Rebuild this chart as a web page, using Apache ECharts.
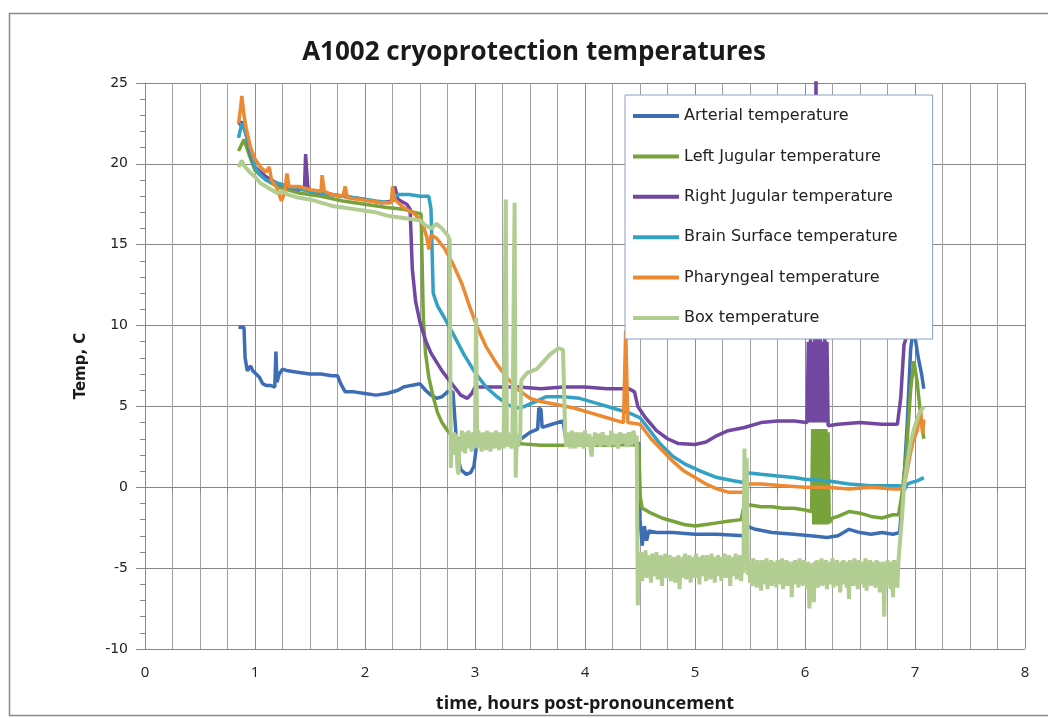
<!DOCTYPE html>
<html>
<head>
<meta charset="utf-8">
<script src="https://cdn.jsdelivr.net/npm/echarts@6/dist/echarts.min.js"></script>
<style>
html,body{margin:0;padding:0;background:#fff;}
#chart{width:1048px;height:718px;}
</style>
</head>
<body>
<div id="chart"></div>
<script>
const titleText = 'A1002 cryoprotection temperatures';
const xAxisName = 'time, hours post-pronouncement';
const yAxisName = 'Temp, C';
const seriesNames = ['Arterial temperature','Left Jugular temperature','Right Jugular temperature','Brain Surface temperature','Pharyngeal temperature','Box temperature'];
const seriesColors = ['#3D6DB5','#78A23A','#7247A2','#33A1C4','#EB8A33','#B2CD92'];
const seriesWidths = [3.5, 3.5, 3.5, 3.5, 3.5, 4];

const arterialData = [[0.85,9.9],[0.9,9.9],[0.91,8.0],[0.93,7.2],[0.96,7.5],[0.98,7.2],[1.01,7.0],[1.04,6.8],[1.07,6.4],[1.1,6.3],[1.14,6.3],[1.18,6.2],[1.19,8.4],[1.2,6.5],[1.22,7.0],[1.25,7.3],[1.3,7.2],[1.4,7.1],[1.5,7.0],[1.6,7.0],[1.7,6.9],[1.75,6.9],[1.78,6.4],[1.82,5.9],[1.9,5.9],[2.0,5.8],[2.1,5.7],[2.2,5.8],[2.3,6.0],[2.35,6.2],[2.42,6.3],[2.5,6.4],[2.55,6.0],[2.6,5.7],[2.65,5.5],[2.7,5.6],[2.75,5.9],[2.8,5.9],[2.84,2.0],[2.87,1.1],[2.92,0.8],[2.96,0.9],[2.99,1.3],[3.02,2.9],[3.1,2.8],[3.2,2.9],[3.3,2.8],[3.38,2.9],[3.42,3.0],[3.5,3.4],[3.57,3.6],[3.58,4.9],[3.6,4.8],[3.61,3.7],[3.7,3.9],[3.8,4.1],[3.83,2.8],[4.0,2.8],[4.2,2.7],[4.45,2.8],[4.49,2.7],[4.5,-2.0],[4.52,-3.6],[4.54,-2.4],[4.56,-3.3],[4.58,-2.7],[4.65,-2.8],[4.8,-2.8],[5.0,-2.9],[5.2,-2.9],[5.44,-3.0],[5.47,-2.4],[5.55,-2.6],[5.7,-2.8],[5.9,-2.9],[6.05,-3.0],[6.2,-3.1],[6.3,-3.0],[6.4,-2.6],[6.5,-2.8],[6.6,-2.9],[6.7,-2.8],[6.8,-2.9],[6.86,-2.8],[6.9,0.5],[6.93,4.0],[6.96,8.5],[6.98,9.6],[7.0,9.3],[7.03,8.0],[7.06,7.0],[7.08,6.1]];

const leftJugularData = [[0.85,20.8],[0.9,21.5],[0.95,20.5],[1.0,19.6],[1.1,19.0],[1.2,18.6],[1.3,18.4],[1.4,18.2],[1.6,18.0],[1.8,17.7],[2.0,17.5],[2.2,17.3],[2.35,17.2],[2.45,17.0],[2.51,16.9],[2.53,10.5],[2.55,8.3],[2.58,6.8],[2.62,5.6],[2.66,4.6],[2.7,4.0],[2.75,3.5],[2.8,3.1],[2.9,2.9],[3.0,2.8],[3.2,2.7],[3.4,2.7],[3.6,2.6],[3.8,2.6],[4.0,2.6],[4.2,2.6],[4.4,2.65],[4.49,2.6],[4.5,-0.5],[4.52,-1.3],[4.55,-1.4],[4.6,-1.6],[4.7,-1.9],[4.8,-2.1],[4.9,-2.3],[5.0,-2.4],[5.1,-2.3],[5.2,-2.2],[5.3,-2.1],[5.42,-2.0],[5.45,-1.0],[5.5,-1.1],[5.6,-1.2],[5.7,-1.2],[5.8,-1.3],[5.9,-1.3],[6.0,-1.4],[6.06,-1.5],[6.07,3.6],[6.08,-2.3],[6.09,3.6],[6.1,-2.3],[6.11,3.6],[6.12,-2.3],[6.13,3.6],[6.14,-2.3],[6.15,3.6],[6.16,-2.3],[6.17,3.6],[6.18,-2.3],[6.19,3.6],[6.2,-2.3],[6.21,3.4],[6.22,-2.2],[6.25,-1.9],[6.3,-1.8],[6.4,-1.5],[6.5,-1.6],[6.6,-1.8],[6.7,-1.9],[6.8,-1.7],[6.85,-1.7],[6.88,-0.5],[6.92,2.0],[6.96,6.0],[6.99,7.8],[7.02,6.5],[7.05,4.5],[7.08,3.0]];

const rightJugularData = [[0.85,22.4],[0.88,22.6],[0.92,21.8],[0.96,20.6],[1.0,19.8],[1.1,19.2],[1.2,18.8],[1.3,18.6],[1.4,18.4],[1.45,18.5],[1.46,20.6],[1.48,18.6],[1.5,18.3],[1.6,18.2],[1.8,18.0],[2.0,17.8],[2.15,17.6],[2.25,17.7],[2.27,18.6],[2.3,17.8],[2.38,17.5],[2.41,17.2],[2.43,13.5],[2.46,11.5],[2.5,10.2],[2.55,9.1],[2.6,8.3],[2.7,7.2],[2.8,6.3],[2.87,5.7],[2.93,5.5],[2.97,5.8],[3.0,6.2],[3.2,6.2],[3.4,6.2],[3.6,6.1],[3.8,6.2],[4.0,6.2],[4.2,6.1],[4.4,6.1],[4.45,5.9],[4.48,5.0],[4.55,4.3],[4.65,3.5],[4.75,3.0],[4.85,2.7],[5.0,2.65],[5.1,2.8],[5.2,3.2],[5.3,3.5],[5.45,3.7],[5.6,4.0],[5.75,4.1],[5.9,4.1],[6.02,4.0],[6.03,9.0],[6.04,4.0],[6.05,9.2],[6.06,4.0],[6.07,9.0],[6.08,4.0],[6.09,9.2],[6.1,26],[6.11,4.0],[6.12,9.0],[6.13,4.0],[6.14,9.2],[6.15,4.0],[6.16,9.0],[6.17,4.0],[6.18,9.2],[6.19,4.0],[6.2,9.0],[6.21,3.8],[6.3,3.9],[6.5,4.0],[6.7,3.9],[6.84,3.9],[6.87,5.5],[6.9,8.8],[6.93,9.5],[7.0,9.6],[7.06,9.7]];

const brainData = [[0.85,21.6],[0.88,22.5],[0.9,22.3],[0.95,21.0],[1.0,19.8],[1.05,19.3],[1.1,19.0],[1.2,18.8],[1.3,18.6],[1.5,18.3],[1.7,18.1],[1.9,17.9],[2.1,17.7],[2.22,17.6],[2.3,18.1],[2.4,18.1],[2.5,18.0],[2.58,18.0],[2.6,17.2],[2.62,12.0],[2.66,11.2],[2.72,10.5],[2.8,9.5],[2.9,8.2],[3.0,7.1],[3.1,6.2],[3.2,5.6],[3.3,5.1],[3.38,4.9],[3.45,5.0],[3.55,5.3],[3.65,5.6],[3.8,5.6],[3.95,5.5],[4.1,5.2],[4.25,4.9],[4.4,4.6],[4.5,4.3],[4.58,3.6],[4.68,2.7],[4.8,1.9],[4.92,1.4],[5.05,1.0],[5.2,0.6],[5.35,0.4],[5.44,0.3],[5.47,0.9],[5.6,0.8],[5.75,0.7],[5.9,0.6],[6.0,0.5],[6.2,0.4],[6.4,0.2],[6.6,0.1],[6.8,0.1],[6.86,0.1],[6.9,-0.2],[6.93,0.2],[6.97,0.3],[7.02,0.4],[7.08,0.6]];

const pharyngealData = [[0.85,22.5],[0.87,23.5],[0.88,24.2],[0.9,23.0],[0.92,22.2],[0.96,21.0],[1.0,20.3],[1.05,19.8],[1.1,19.5],[1.13,19.8],[1.15,19.0],[1.2,18.5],[1.24,17.7],[1.27,18.2],[1.29,19.4],[1.31,18.6],[1.4,18.6],[1.5,18.4],[1.6,18.3],[1.61,19.3],[1.63,18.3],[1.7,18.1],[1.8,18.0],[1.82,18.6],[1.84,17.9],[1.95,17.8],[2.05,17.7],[2.15,17.6],[2.24,17.6],[2.25,18.6],[2.27,17.8],[2.35,17.3],[2.45,16.9],[2.52,16.4],[2.56,15.5],[2.58,14.7],[2.6,15.6],[2.65,15.4],[2.72,14.8],[2.8,13.8],[2.88,12.6],[2.95,11.2],[3.02,9.9],[3.1,8.7],[3.2,7.6],[3.3,6.7],[3.4,6.0],[3.5,5.5],[3.6,5.3],[3.75,5.1],[3.9,4.9],[4.05,4.6],[4.2,4.3],[4.35,4.0],[4.37,9.7],[4.39,4.0],[4.45,3.95],[4.5,3.9],[4.6,3.0],[4.7,2.3],[4.8,1.6],[4.9,1.0],[5.0,0.6],[5.1,0.2],[5.2,-0.1],[5.3,-0.3],[5.44,-0.3],[5.47,0.2],[5.6,0.2],[5.8,0.1],[6.0,0.0],[6.2,0.0],[6.4,-0.1],[6.6,0.0],[6.8,-0.1],[6.86,-0.1],[6.9,0.0],[6.95,1.8],[6.98,2.8],[7.02,3.5],[7.05,4.8],[7.07,3.3],[7.08,4.2]];

const boxData = [[0.85,19.8],[0.88,20.2],[0.9,19.9],[0.95,19.5],[1.0,19.2],[1.05,18.8],[1.1,18.6],[1.15,18.4],[1.2,18.2],[1.25,18.3],[1.3,18.1],[1.4,17.9],[1.5,17.8],[1.6,17.6],[1.7,17.4],[1.8,17.3],[1.9,17.2],[2.0,17.1],[2.1,17.0],[2.2,16.8],[2.3,16.7],[2.4,16.6],[2.5,16.5],[2.55,16.2],[2.6,16.0],[2.65,16.3],[2.7,16.0],[2.75,15.6],[2.77,15.3],[2.78,1.2],[2.79,3.2],[2.8,2.2],[2.81,3.4],[2.82,2.0],[2.83,3.3],[2.84,1.2],[2.85,0.8],[2.86,3.0],[2.87,2.2],[2.88,3.5],[2.89,2.4],[2.9,3.4],[2.91,2.1],[2.92,3.2],[2.93,2.5],[2.94,3.5],[2.95,2.4],[2.96,3.3],[2.97,2.2],[2.98,3.4],[2.99,2.6],[3.0,3.3],[3.01,10.5],[3.02,2.4],[3.03,3.5],[3.04,2.5],[3.05,3.3],[3.06,2.2],[3.07,3.4],[3.08,2.6],[3.09,3.2],[3.1,2.3],[3.11,3.5],[3.12,2.5],[3.13,3.3],[3.14,2.2],[3.15,3.4],[3.16,2.6],[3.17,3.2],[3.18,2.4],[3.19,3.5],[3.2,2.5],[3.21,3.3],[3.22,2.3],[3.23,3.4],[3.24,2.6],[3.25,3.2],[3.26,2.4],[3.28,17.8],[3.29,2.5],[3.3,3.4],[3.31,2.6],[3.32,3.3],[3.33,2.4],[3.34,3.1],[3.36,17.6],[3.37,0.6],[3.38,3.2],[3.39,2.5],[3.4,3.3],[3.41,2.8],[3.42,6.6],[3.44,6.8],[3.48,7.1],[3.52,7.2],[3.56,7.3],[3.6,7.6],[3.64,7.9],[3.68,8.2],[3.72,8.4],[3.76,8.6],[3.8,8.5],[3.82,3.3],[3.83,2.5],[3.84,3.4],[3.85,2.6],[3.86,3.2],[3.87,2.4],[3.88,3.5],[3.89,2.6],[3.9,3.3],[3.91,2.4],[3.92,3.4],[3.93,2.7],[3.94,3.2],[3.95,2.5],[3.96,3.4],[3.97,2.6],[3.98,3.3],[3.99,2.4],[4.0,3.5],[4.01,2.6],[4.02,3.2],[4.03,2.5],[4.04,3.3],[4.05,2.4],[4.06,1.9],[4.07,3.1],[4.08,2.5],[4.09,3.4],[4.1,2.6],[4.12,3.3],[4.14,2.5],[4.16,3.4],[4.18,2.6],[4.2,3.2],[4.22,2.5],[4.24,3.5],[4.26,2.6],[4.28,3.3],[4.3,2.4],[4.32,3.4],[4.34,2.7],[4.36,3.3],[4.38,2.5],[4.4,3.4],[4.42,2.6],[4.44,3.5],[4.46,2.7],[4.47,3.2],[4.48,-7.3],
[4.49,-4.1],[4.5,-5.4],[4.51,-4.0],[4.52,-5.8],[4.53,-4.3],[4.54,-5.2],[4.55,-3.9],[4.56,-5.6],[4.57,-4.2],[4.58,-5.3],[4.59,-4.4],[4.6,-5.9],[4.61,-4.1],[4.62,-5.5],[4.63,-4.3],[4.64,-5.2],[4.65,-4.0],[4.66,-5.7],[4.67,-4.4],[4.68,-5.4],[4.69,-4.2],[4.7,-6.1],[4.71,-4.3],[4.72,-5.3],[4.73,-4.1],[4.74,-5.6],[4.75,-4.5],[4.76,-5.2],[4.77,-4.2],[4.78,-5.8],[4.79,-4.4],[4.8,-5.5],[4.81,-4.3],[4.82,-5.9],[4.83,-4.6],[4.84,-5.4],[4.85,-4.2],[4.86,-6.3],[4.87,-4.5],[4.88,-5.6],[4.89,-4.3],[4.9,-5.3],[4.91,-4.1],[4.92,-5.7],[4.93,-4.4],[4.94,-5.5],[4.95,-4.2],[4.96,-5.9],[4.97,-4.5],[4.98,-5.3],[4.99,-4.3],[5.0,-5.6],[5.01,-4.1],[5.02,-5.4],[5.03,-4.4],[5.04,-6.0],[5.05,-4.3],[5.06,-5.5],[5.07,-4.2],[5.08,-5.3],[5.09,-4.5],[5.1,-5.8],[5.11,-4.2],[5.12,-5.4],[5.13,-4.4],[5.14,-5.7],[5.15,-4.1],[5.16,-5.3],[5.17,-4.3],[5.18,-5.9],[5.19,-4.4],[5.2,-5.5],[5.21,-4.2],[5.22,-5.2],[5.23,-4.5],[5.24,-5.8],[5.25,-4.3],[5.26,-5.4],[5.27,-4.1],[5.28,-5.6],[5.29,-4.4],[5.3,-5.3],[5.31,-4.2],[5.32,-6.1],[5.33,-4.5],[5.34,-5.5],[5.35,-4.3],[5.36,-5.2],[5.37,-4.1],[5.38,-5.7],[5.39,-4.4],[5.4,-5.4],[5.41,-4.2],[5.42,-5.8],[5.43,-4.4],[5.44,-5.3],
[5.45,2.4],[5.46,-4.8],[5.47,1.8],[5.48,-5.4],
[5.49,-4.5],[5.5,-5.9],[5.51,-4.6],[5.52,-6.1],[5.53,-4.4],[5.54,-5.7],[5.55,-4.8],[5.56,-6.2],[5.57,-4.5],[5.58,-5.8],[5.59,-4.7],[5.6,-6.4],[5.61,-4.5],[5.62,-5.9],[5.63,-4.6],[5.64,-6.0],[5.65,-4.4],[5.66,-6.3],[5.67,-4.7],[5.68,-5.8],[5.69,-4.5],[5.7,-6.1],[5.71,-4.6],[5.72,-5.7],[5.73,-4.8],[5.74,-6.2],[5.75,-4.5],[5.76,-5.9],[5.77,-4.6],[5.78,-6.0],[5.79,-4.4],[5.8,-6.3],[5.81,-4.7],[5.82,-5.8],[5.83,-4.5],[5.84,-6.1],[5.85,-4.6],[5.86,-5.9],[5.87,-4.8],[5.88,-6.8],[5.89,-4.6],[5.9,-6.0],[5.91,-4.5],[5.92,-5.8],[5.93,-4.7],[5.94,-6.2],[5.95,-4.4],[5.96,-5.9],[5.97,-4.6],[5.98,-6.1],[5.99,-4.5],[6.0,-5.8],[6.01,-4.7],[6.02,-6.3],[6.03,-4.6],[6.04,-7.5],[6.05,-4.8],[6.06,-6.4],[6.07,-4.7],[6.08,-7.1],[6.09,-4.6],[6.1,-6.0],[6.11,-4.5],[6.12,-6.2],[6.13,-4.7],[6.14,-5.9],[6.15,-4.4],[6.16,-6.1],[6.17,-4.6],[6.18,-5.8],[6.19,-4.5],[6.2,-6.3],[6.21,-4.7],[6.22,-5.9],[6.23,-4.6],[6.24,-6.0],[6.25,-4.4],[6.26,-6.2],[6.27,-4.7],[6.28,-5.8],[6.29,-4.5],[6.3,-6.1],[6.31,-4.8],[6.32,-6.5],[6.33,-4.6],[6.34,-5.9],[6.35,-4.5],[6.36,-6.0],[6.37,-4.7],[6.38,-6.2],[6.39,-4.6],[6.4,-6.9],[6.41,-4.5],[6.42,-5.9],[6.43,-4.7],[6.44,-6.1],[6.45,-4.4],[6.46,-5.8],[6.47,-4.6],[6.48,-6.3],[6.49,-4.5],[6.5,-6.0],[6.51,-4.7],[6.52,-5.9],[6.53,-4.6],[6.54,-6.2],[6.55,-4.4],[6.56,-6.4],[6.57,-4.7],[6.58,-5.8],[6.59,-4.5],[6.6,-6.1],[6.61,-4.6],[6.62,-5.9],[6.63,-4.8],[6.64,-6.2],[6.65,-4.5],[6.66,-6.0],[6.67,-4.6],[6.68,-6.5],[6.69,-4.7],[6.7,-6.1],[6.71,-4.6],[6.72,-8.0],[6.73,-4.8],[6.74,-6.2],[6.75,-4.5],[6.76,-6.0],[6.77,-4.7],[6.78,-6.3],[6.79,-4.6],[6.8,-6.8],[6.81,-4.5],[6.82,-6.0],[6.83,-4.6],[6.84,-6.2],[6.85,-4.5],
[6.88,-2.0],[6.9,0.0],[6.93,1.5],[6.96,2.8],[7.0,3.8],[7.04,4.6],[7.08,5.0]];

const allData = [arterialData, leftJugularData, rightJugularData, brainData, pharyngealData, boxData];

const chart = echarts.init(document.getElementById('chart'), null, {renderer:'canvas'});
chart.setOption({
  animation: false,
  backgroundColor: '#ffffff',
  title: {
    text: titleText,
    left: 529, top: 35, textAlign: 'center',
    textStyle: {fontFamily: 'Open Sans', fontWeight: 'bold', fontSize: 26, color: '#1a1a1a'}
  },
  grid: {left: 145, right: 23, top: 83, bottom: 68, containLabel: false},
  legend: {
    orient: 'vertical', left: 625, top: 95,
    padding: [11, 35, 11, 8], itemGap: 20.4, itemWidth: 46, itemHeight: 4,
    icon: 'rect', backgroundColor: '#ffffff', borderColor: '#8aa2bd', borderWidth: 1,
    borderRadius: 0,
    data: seriesNames,
    textStyle: {fontFamily: 'DejaVu Sans', fontSize: 16, color: '#222', lineHeight: 20}
  },
  xAxis: {
    type: 'value', min: 0, max: 8, interval: 1,
    name: xAxisName, nameLocation: 'middle', nameGap: 46,
    nameTextStyle: {fontFamily: 'Open Sans', fontWeight: 'bold', fontSize: 18, color: '#1a1a1a'},
    axisLine: {show: true, lineStyle: {color: '#868686', width: 1}},
    axisTick: {show: true, length: 5, lineStyle: {color: '#868686'}},
    minorTick: {show: true, splitNumber: 4, length: 5, lineStyle: {color: '#868686'}},
    axisLabel: {margin: 16, fontFamily: 'Open Sans', fontSize: 15, color: '#222'},
    splitLine: {show: true, lineStyle: {color: '#8c8c8c', width: 1}},
    minorSplitLine: {show: true, lineStyle: {color: '#a0a0a0', width: 1}}
  },
  yAxis: {
    type: 'value', min: -10, max: 25, interval: 5,
    name: yAxisName, nameLocation: 'middle', nameGap: 56,
    nameTextStyle: {fontFamily: 'DejaVu Sans', fontWeight: 'bold', fontSize: 15, color: '#1a1a1a'},
    axisLine: {show: true, lineStyle: {color: '#868686', width: 1}},
    axisTick: {show: true, length: 9, lineStyle: {color: '#868686'}},
    minorTick: {show: true, splitNumber: 5, length: 5, lineStyle: {color: '#868686'}},
    axisLabel: {margin: 17, fontFamily: 'DejaVu Sans', fontSize: 14, color: '#222'},
    splitLine: {show: true, lineStyle: {color: '#858585', width: 1}},
    minorSplitLine: {show: false}
  },
  graphic: [{
    type: 'rect', z: -10, silent: true,
    shape: {x: 9.5, y: 13.5, width: 1060, height: 702},
    style: {fill: 'none', stroke: '#8a8a8a', lineWidth: 1.5}
  }],
  series: seriesNames.map((name, i) => ({
    name: name, type: 'line', data: allData[i],
    showSymbol: false, symbol: 'none', clip: true,
    color: seriesColors[i],
    lineStyle: {color: seriesColors[i], width: seriesWidths[i]},
    z: 2 + i * 0.01
  }))
});
</script>
</body>
</html>
